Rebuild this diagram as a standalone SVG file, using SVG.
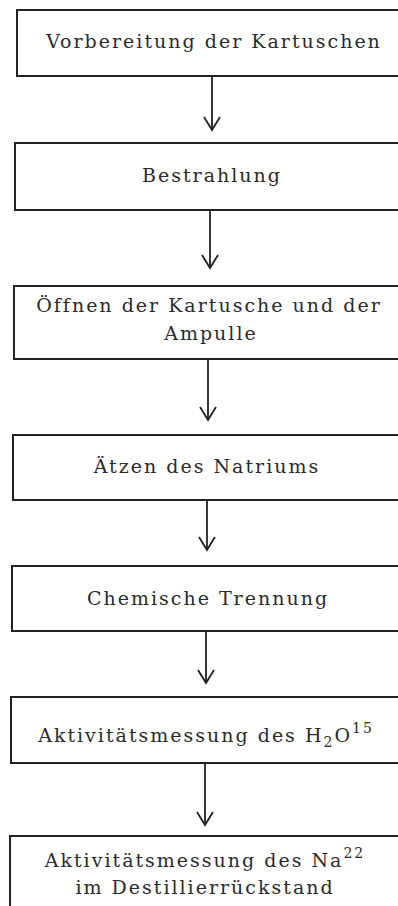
<svg xmlns="http://www.w3.org/2000/svg" width="398" height="906" viewBox="0 0 398 906">
<style>
.box{fill:#fff;stroke:#222;stroke-width:2}
.t{font-family:"DejaVu Serif","Liberation Serif",serif;font-size:19px;fill:#2a2a2a;text-anchor:middle;letter-spacing:2px}
.s{font-size:14px}
.c{stroke:#222;stroke-width:1.8;fill:none}
</style>
<rect width="398" height="906" fill="#fff"/>
<g id="connectors">
<path class="c" d="M212,76 V130"/><path class="c" d="M204,117 L212,130 L220,117"/>
<path class="c" d="M210,210 V268"/><path class="c" d="M202,255 L210,268 L218,255"/>
<path class="c" d="M208,359 V420"/><path class="c" d="M200,407 L208,420 L216,407"/>
<path class="c" d="M207,500 V550"/><path class="c" d="M199,537 L207,550 L215,537"/>
<path class="c" d="M206,631 V683"/><path class="c" d="M198,670 L206,683 L214,670"/>
<path class="c" d="M205,763 V825"/><path class="c" d="M197,812 L205,825 L213,812"/>
</g>
<g id="n1"><rect class="box" x="17" y="10" width="400" height="66"/><text class="t" x="214" y="48">Vorbereitung der Kartuschen</text></g>
<g id="n2"><rect class="box" x="15" y="143" width="400" height="67"/><text class="t" x="212" y="182">Bestrahlung</text></g>
<g id="n3"><rect class="box" x="14" y="286" width="400" height="73"/><text class="t" x="209" y="312">Öffnen der Kartusche und der</text><text class="t" x="211" y="340">Ampulle</text></g>
<g id="n4"><rect class="box" x="13" y="435" width="400" height="65"/><text class="t" x="207" y="473">Ätzen des Natriums</text></g>
<g id="n5"><rect class="box" x="12" y="566" width="400" height="65"/><text class="t" x="208" y="605">Chemische Trennung</text></g>
<g id="n6"><rect class="box" x="11" y="697" width="400" height="66"/><text class="t" x="206" y="742">Aktivitätsmessung des H<tspan class="s" dy="5">2</tspan><tspan dy="-5">O</tspan><tspan class="s" dy="-9">15</tspan></text></g>
<g id="n7"><rect class="box" x="10" y="836" width="400" height="100"/><text class="t" x="205" y="867">Aktivitätsmessung des Na<tspan class="s" dy="-9">22</tspan></text><text class="t" x="205" y="894">im Destillierrückstand</text></g>
</svg>
